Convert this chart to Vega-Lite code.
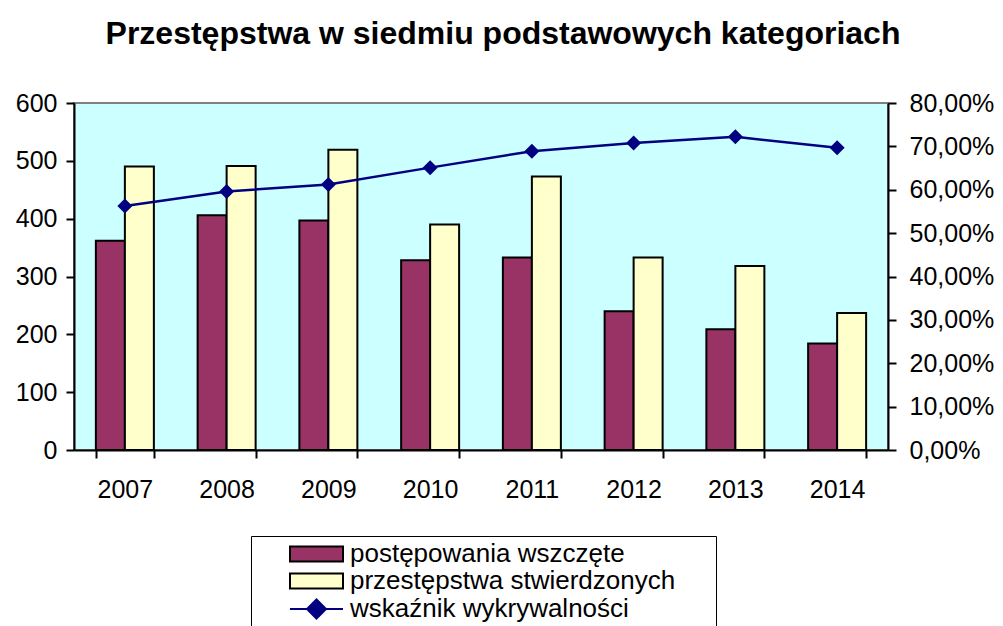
{
  "$schema": "https://vega.github.io/schema/vega-lite/v6.json",
  "width": 814,
  "height": 347,
  "autosize": {"type": "none"},
  "padding": {"left": 74, "top": 103, "right": 115, "bottom": 176},
  "background": "white",
  "title": {
    "text": "Przestępstwa w siedmiu podstawowych kategoriach",
    "font": "Liberation Sans",
    "fontSize": 32,
    "fontWeight": "bold",
    "color": "black",
    "anchor": "middle",
    "dx": 22,
    "offset": 40
  },
  "data": {
    "values": [
      {"year": "2007", "series": "postępowania wszczęte", "value": 362},
      {"year": "2008", "series": "postępowania wszczęte", "value": 406},
      {"year": "2009", "series": "postępowania wszczęte", "value": 397},
      {"year": "2010", "series": "postępowania wszczęte", "value": 328},
      {"year": "2011", "series": "postępowania wszczęte", "value": 333},
      {"year": "2012", "series": "postępowania wszczęte", "value": 240},
      {"year": "2013", "series": "postępowania wszczęte", "value": 209},
      {"year": "2014", "series": "postępowania wszczęte", "value": 184},
      {"year": "2007", "series": "przestępstwa stwierdzonych", "value": 490},
      {"year": "2008", "series": "przestępstwa stwierdzonych", "value": 491},
      {"year": "2009", "series": "przestępstwa stwierdzonych", "value": 519},
      {"year": "2010", "series": "przestępstwa stwierdzonych", "value": 390},
      {"year": "2011", "series": "przestępstwa stwierdzonych", "value": 473},
      {"year": "2012", "series": "przestępstwa stwierdzonych", "value": 333},
      {"year": "2013", "series": "przestępstwa stwierdzonych", "value": 318},
      {"year": "2014", "series": "przestępstwa stwierdzonych", "value": 237},
      {"year": "2007", "series": "wskaźnik wykrywalności", "value": 0.5625},
      {"year": "2008", "series": "wskaźnik wykrywalności", "value": 0.596},
      {"year": "2009", "series": "wskaźnik wykrywalności", "value": 0.612},
      {"year": "2010", "series": "wskaźnik wykrywalności", "value": 0.651},
      {"year": "2011", "series": "wskaźnik wykrywalności", "value": 0.689},
      {"year": "2012", "series": "wskaźnik wykrywalności", "value": 0.708},
      {"year": "2013", "series": "wskaźnik wykrywalności", "value": 0.722},
      {"year": "2014", "series": "wskaźnik wykrywalności", "value": 0.697}
    ]
  },
  "encoding": {
    "x": {
      "field": "year",
      "type": "nominal",
      "scale": {"paddingInner": 0.43, "paddingOuter": 0.215},
      "axis": {
        "title": null,
        "labelAngle": 0,
        "tickBand": "extent",
        "labelFontSize": 25,
        "labelPadding": 19
      }
    }
  },
  "layer": [
    {
      "transform": [{"filter": "datum.series !== 'wskaźnik wykrywalności'"}],
      "mark": {"type": "bar", "stroke": "black", "strokeWidth": 2, "opacity": 1},
      "encoding": {
        "xOffset": {
          "field": "series",
          "type": "nominal",
          "scale": {"paddingInner": 0, "paddingOuter": 0}
        },
        "y": {
          "field": "value",
          "type": "quantitative",
          "scale": {"domain": [0, 600], "nice": false},
          "axis": {
            "title": null,
            "values": [0, 100, 200, 300, 400, 500, 600],
            "labelFontSize": 25,
            "labelPadding": 9,
            "grid": false
          }
        },
        "color": {
          "field": "series",
          "type": "nominal",
          "scale": {
            "domain": ["postępowania wszczęte", "przestępstwa stwierdzonych", "wskaźnik wykrywalności"],
            "range": ["#993366", "#FFFFCC", "#000080"]
          },
          "legend": {
            "title": "\u00a0",
            "titleOrient": "right",
            "titleFontSize": 1,
            "titlePadding": 36,
            "orient": "none",
            "legendX": 177,
            "legendY": 433,
            "direction": "vertical",
            "padding": 5,
            "strokeColor": "black",
            "fillColor": "white",
            "symbolSize": 400,
            "symbolOffset": 47.5,
            "labelOffset": 20.5,
            "rowPadding": 1,
            "symbolType": {"expr": "datum.value === 'wskaźnik wykrywalności' ? 'M-2.65,0H2.65M0,-0.95L0.95,0L0,0.95L-0.95,0Z' : 'M-2.65,-0.75H2.65V0.75H-2.65Z'"},
            "symbolStrokeColor": {"expr": "datum.value === 'wskaźnik wykrywalności' ? '#000080' : 'black'"},
            "symbolStrokeWidth": 2,
            "symbolOpacity": 1,
            "labelFont": "Liberation Sans",
            "labelFontSize": 26,
            "labelColor": "black",
            "labelLimit": 600,
            "encode": {
              "legend": {"strokeWidth": {"value": 2}}
            }
          }
        }
      }
    },
    {
      "transform": [{"filter": "datum.series === 'wskaźnik wykrywalności'"}],
      "mark": {
        "type": "line",
        "color": "#000080",
        "strokeWidth": 2.5,
        "point": {"filled": true, "shape": "diamond", "size": 225, "opacity": 1, "color": "#000080"}
      },
      "encoding": {
        "y": {
          "field": "value",
          "type": "quantitative",
          "scale": {"domain": [0, 0.8], "nice": false},
          "axis": {
            "orient": "right",
            "title": null,
            "values": [0, 0.1, 0.2, 0.3, 0.4, 0.5, 0.6, 0.7, 0.8],
            "labelExpr": "replace(format(datum.value, '.2%'), '.', ',')",
            "labelFontSize": 25,
            "labelPadding": 13,
            "grid": false
          }
        }
      }
    }
  ],
  "resolve": {"scale": {"y": "independent"}},
  "config": {
    "view": {"fill": "#CCFFFF", "stroke": "#808080", "strokeWidth": 2},
    "font": "Liberation Sans",
    "axis": {
      "domainColor": "black",
      "domainWidth": 2,
      "tickColor": "black",
      "tickWidth": 2,
      "tickSize": 8,
      "labelColor": "black",
      "labelFont": "Liberation Sans",
      "labelFontSize": 25
    }
  }
}
